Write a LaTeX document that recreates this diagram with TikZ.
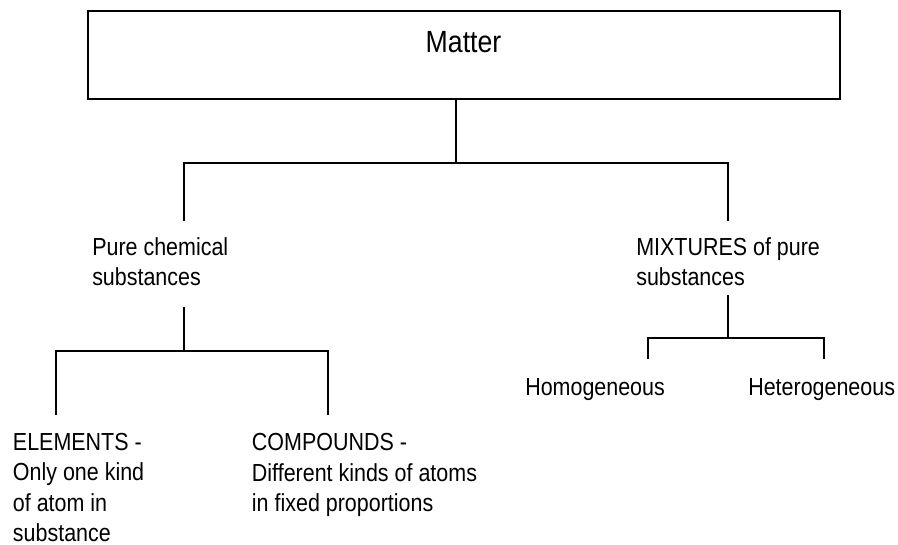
\documentclass[tikz,border=0pt]{standalone}
\usepackage{fontspec}
\setmainfont{Liberation Sans}[FakeStretch=0.87]
\tikzset{
  lbl/.style={anchor=base west, align=left, inner sep=0pt, font=\fontsize{18.5}{22.7}\selectfont},
  conn/.style={line width=1pt},
  topbox/.style={draw, line width=1.25pt, minimum width=564pt, minimum height=66pt, inner sep=0pt}
}
\begin{document}
\begin{tikzpicture}[x=0.75pt, y=-0.75pt]
\useasboundingbox (0,0) rectangle (898,544);

\node[topbox] (matter) at (464,55) {};
\node[anchor=base, inner sep=0pt, font=\fontsize{23}{27}\selectfont] (mattertxt) at (463.5,52.3) {Matter};

\node[lbl] (pure) at (92,285.5) {Pure chemical\\substances};
\node[lbl] (mix) at (636,285.5) {MIXTURES of pure\\substances};
\node[lbl] (elem) at (12.7,541.5) {ELEMENTS -\\Only one kind\\of atom in\\substance};
\node[lbl] (comp) at (251.7,511.3) {COMPOUNDS -\\Different kinds of atoms\\in fixed proportions};
\node[lbl] (homo) at (525,395) {Homogeneous};
\node[lbl] (hetero) at (748,395) {Heterogeneous};

\begin{scope}[conn]
\coordinate (j1) at (456,163);
\coordinate (a1) at (184,163);
\coordinate (b1) at (728,163);
\coordinate (a1e) at (184,221);
\coordinate (b1e) at (728,221);
\draw (matter.south -| j1) -- (j1);
\draw (a1e) -- (a1) -- (b1) -- (b1e);
\end{scope}

\begin{scope}[conn]
\coordinate (s2) at (184,307);
\coordinate (j2) at (184,351);
\coordinate (a2) at (56,351);
\coordinate (b2) at (328,351);
\coordinate (a2e) at (56,415);
\coordinate (b2e) at (328,415);
\draw (s2) -- (j2);
\draw (a2e) -- (a2) -- (b2) -- (b2e);
\end{scope}

\begin{scope}[conn]
\coordinate (s3) at (728,295);
\coordinate (j3) at (728,338);
\coordinate (a3) at (648,338);
\coordinate (b3) at (824,338);
\coordinate (a3e) at (648,359);
\coordinate (b3e) at (824,359);
\draw (s3) -- (j3);
\draw (a3e) -- (a3) -- (b3) -- (b3e);
\end{scope}

\end{tikzpicture}
\end{document}
